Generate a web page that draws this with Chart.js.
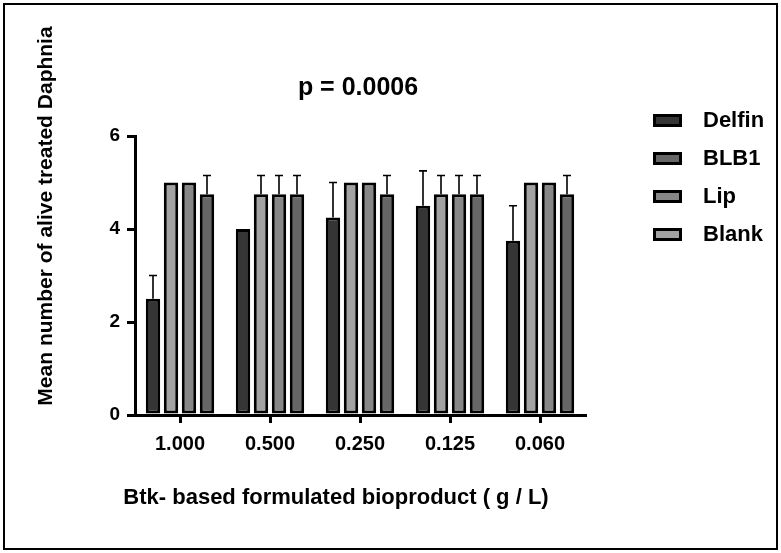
<!DOCTYPE html>
<html>
<head>
<meta charset="utf-8">
<script src="https://cdn.jsdelivr.net/npm/chart.js@4/dist/chart.umd.min.js"></script>
<style>
  body { margin: 0; background: #fff; }
</style>
</head>
<body>
<canvas id="myChart" width="781" height="553"></canvas>
<script>
// doses on the x axis
const doses = ["1.000", "0.500", "0.250", "0.125", "0.060"];
// bar order inside each group (left to right)
const delfin = [2.5, 4, 4.25, 4.5, 3.75];
const delfinErr = [0.5, 0, 0.75, 0.75, 0.75];
const blank = [5, 4.75, 5, 4.75, 5];
const blankErr = [0, 0.4, 0, 0.4, 0];
const lip = [5, 4.75, 5, 4.75, 5];
const lipErr = [0, 0.4, 0, 0.4, 0];
const blb1 = [4.75, 4.75, 4.75, 4.75, 4.75];
const blb1Err = [0.4, 0.4, 0.4, 0.4, 0.4];
// order used in the legend
const legendOrder = ["Delfin", "BLB1", "Lip", "Blank"];
const yTicks = [0, 2, 4, 6];

const FONT = "'Liberation Sans', Arial, sans-serif";

function makeSet(label, data, err, color) {
  return {
    label: label,
    data: data,
    errors: err,
    backgroundColor: color,
    borderColor: "#000",
    borderWidth: 3,
    borderSkipped: false,
    categoryPercentage: 0.8,
    barPercentage: 0.8
  };
}

// draws the upward error bars
const errorBars = {
  id: "errorBars",
  afterDatasetsDraw(chart) {
    const ctx = chart.ctx;
    const y = chart.scales.y;
    ctx.save();
    ctx.strokeStyle = "#000";
    ctx.lineWidth = 1.6;
    chart.data.datasets.forEach((ds, i) => {
      const meta = chart.getDatasetMeta(i);
      meta.data.forEach((bar, j) => {
        const e = ds.errors[j];
        if (!e) return;
        const top = y.getPixelForValue(ds.data[j] + e);
        ctx.beginPath();
        ctx.moveTo(bar.x, bar.y);
        ctx.lineTo(bar.x, top);
        ctx.moveTo(bar.x - 4, top);
        ctx.lineTo(bar.x + 4, top);
        ctx.stroke();
      });
    });
    ctx.restore();
  }
};

// titles, legend and frame
const extras = {
  id: "extras",
  afterDraw(chart) {
    const ctx = chart.ctx;
    const area = chart.chartArea;
    const midX = (area.left + area.right) / 2;
    ctx.save();
    ctx.fillStyle = "#000";
    ctx.textAlign = "center";
    ctx.textBaseline = "middle";
    ctx.font = "bold 25px " + FONT;
    ctx.fillText("p = 0.0006", midX - 2, 88);

    ctx.font = "bold 22px " + FONT;
    ctx.fillText("Btk- based formulated bioproduct ( g / L)", 336, 498);

    ctx.font = "bold 21px " + FONT;
    ctx.save();
    ctx.translate(46, 216);
    ctx.rotate(-Math.PI / 2);
    ctx.fillText("Mean number of alive treated Daphnia", 0, 0);
    ctx.restore();

    // legend
    ctx.textAlign = "left";
    ctx.font = "bold 22px " + FONT;
    legendOrder.forEach((name, k) => {
      const ds = chart.data.datasets.find((d) => d.label === name);
      const cy = 120 + k * 38;
      ctx.fillStyle = "#000";
      ctx.fillRect(653, cy - 6, 29, 13);
      ctx.fillStyle = ds.backgroundColor;
      ctx.fillRect(656, cy - 3, 23, 7);
      ctx.fillStyle = "#000";
      ctx.fillText(name, 703, cy + 1);
    });

    // outer frame
    ctx.strokeStyle = "#000";
    ctx.lineWidth = 2;
    ctx.strokeRect(4, 4, 773, 545);
    ctx.restore();
  }
};

const ctx = document.getElementById("myChart").getContext("2d");
const chart = new Chart(ctx, {
  type: "bar",
  data: {
    labels: doses,
    datasets: [
      makeSet("Delfin", delfin, delfinErr, "#353535"),
      makeSet("Blank", blank, blankErr, "#a2a2a2"),
      makeSet("Lip", lip, lipErr, "#878787"),
      makeSet("BLB1", blb1, blb1Err, "#666666")
    ]
  },
  options: {
    responsive: false,
    animation: false,
    devicePixelRatio: 1,
    layout: { padding: { top: 136, right: 196, left: 0, bottom: 0 } },
    plugins: {
      legend: { display: false },
      title: { display: false },
      tooltip: { enabled: false }
    },
    scales: {
      x: {
        afterFit: (s) => { s.height = 138; },
        grid: {
          offset: false,
          drawOnChartArea: false,
          color: "#000",
          lineWidth: 3,
          tickLength: 8
        },
        border: { color: "#000", width: 3 },
        ticks: {
          color: "#000",
          padding: 9,
          font: { family: FONT, size: 20, weight: "bold" }
        }
      },
      y: {
        min: 0,
        max: 6,
        afterFit: (s) => { s.width = 135; },
        afterBuildTicks: (s) => { s.ticks = yTicks.map((v) => ({ value: v })); },
        grid: {
          drawOnChartArea: false,
          color: "#000",
          lineWidth: 3,
          tickLength: 8
        },
        border: { color: "#000", width: 3 },
        ticks: {
          color: "#000",
          padding: 7,
          font: { family: FONT, size: 19, weight: "bold" }
        }
      }
    }
  },
  plugins: [errorBars, extras]
});
</script>
</body>
</html>
